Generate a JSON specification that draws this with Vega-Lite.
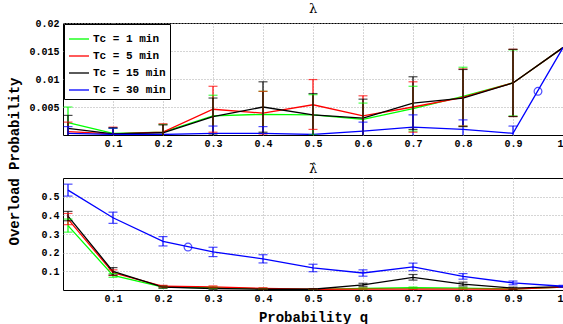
{
  "$schema": "https://vega.github.io/schema/vega-lite/v6.json",
  "padding": {"left": 6, "top": 2, "right": 2, "bottom": 2},
  "bounds": "flush",
  "spacing": 43,
  "background": "white",
  "config": {
    "view": {"stroke": "black", "strokeWidth": 1},
    "font": "Liberation Mono",
    "axis": {
      "labelFont": "Liberation Mono", "labelFontWeight": "bold", "labelFontSize": 10, "labelColor": "black",
      "domain": false, "ticks": false, "grid": true, "gridColor": "#aaaaaa", "gridDash": [1, 2], "gridWidth": 1,
      "titleFont": "Liberation Mono", "titleFontWeight": "bold", "titleFontSize": 14, "titleColor": "black",
      "labelPadding": 4, "labelOverlap": false
    },
    "legend": {
      "strokeColor": "black", "fillColor": "white", "padding": 4,
      "labelFont": "Liberation Mono", "labelFontWeight": "bold", "labelFontSize": 11, "labelColor": "black",
      "symbolType": "stroke", "symbolSize": 400, "symbolStrokeWidth": 1.3, "rowPadding": 1, "labelOffset": 3
    },
    "title": {"font": "DejaVu Serif", "fontSize": 13, "fontWeight": "normal", "color": "black", "offset": 2}
  },
  "resolve": {"scale": {"color": "independent"}, "legend": {"color": "independent"}},
  "datasets": {
    "top": [
      {"s": "Tc = 1 min", "q": 0.01, "v": 0.0022, "lo": -0.0006, "hi": 0.005},
      {"s": "Tc = 1 min", "q": 0.1, "v": 0.0003, "lo": -0.0006, "hi": 0.0012},
      {"s": "Tc = 1 min", "q": 0.2, "v": 0.0005, "lo": -0.0009, "hi": 0.0019},
      {"s": "Tc = 1 min", "q": 0.3, "v": 0.0034, "lo": -0.0003, "hi": 0.0071},
      {"s": "Tc = 1 min", "q": 0.4, "v": 0.0037, "lo": -0.0004, "hi": 0.0078},
      {"s": "Tc = 1 min", "q": 0.5, "v": 0.0036, "lo": 0.0, "hi": 0.0072},
      {"s": "Tc = 1 min", "q": 0.6, "v": 0.0028, "lo": -0.0001, "hi": 0.0057},
      {"s": "Tc = 1 min", "q": 0.7, "v": 0.0047, "lo": 0.0007, "hi": 0.0087},
      {"s": "Tc = 1 min", "q": 0.8, "v": 0.0069, "lo": 0.0016, "hi": 0.0121},
      {"s": "Tc = 1 min", "q": 0.9, "v": 0.0093, "lo": 0.0034, "hi": 0.0152},
      {"s": "Tc = 1 min", "q": 1.0, "v": 0.0156, "lo": null, "hi": null},
      {"s": "Tc = 5 min", "q": 0.01, "v": 0.0006, "lo": -0.0011, "hi": 0.0023},
      {"s": "Tc = 5 min", "q": 0.1, "v": 0.0002, "lo": -0.001, "hi": 0.0014},
      {"s": "Tc = 5 min", "q": 0.2, "v": 0.0005, "lo": -0.001, "hi": 0.002},
      {"s": "Tc = 5 min", "q": 0.3, "v": 0.0046, "lo": 0.0005, "hi": 0.0087},
      {"s": "Tc = 5 min", "q": 0.4, "v": 0.0039, "lo": 0.0, "hi": 0.0078},
      {"s": "Tc = 5 min", "q": 0.5, "v": 0.0054, "lo": 0.001, "hi": 0.0099},
      {"s": "Tc = 5 min", "q": 0.6, "v": 0.0034, "lo": -0.0002, "hi": 0.007},
      {"s": "Tc = 5 min", "q": 0.7, "v": 0.005, "lo": 0.0005, "hi": 0.0095},
      {"s": "Tc = 5 min", "q": 0.8, "v": 0.0067, "lo": 0.0016, "hi": 0.0118},
      {"s": "Tc = 5 min", "q": 0.9, "v": 0.0093, "lo": 0.0033, "hi": 0.0153},
      {"s": "Tc = 5 min", "q": 1.0, "v": 0.0156, "lo": null, "hi": null},
      {"s": "Tc = 15 min", "q": 0.01, "v": 0.0012, "lo": -0.0011, "hi": 0.0035},
      {"s": "Tc = 15 min", "q": 0.1, "v": 0.0002, "lo": -0.0009, "hi": 0.0013},
      {"s": "Tc = 15 min", "q": 0.2, "v": 0.0004, "lo": -0.001, "hi": 0.0018},
      {"s": "Tc = 15 min", "q": 0.3, "v": 0.0033, "lo": 0.0, "hi": 0.0066},
      {"s": "Tc = 15 min", "q": 0.4, "v": 0.005, "lo": 0.0005, "hi": 0.0095},
      {"s": "Tc = 15 min", "q": 0.5, "v": 0.0036, "lo": -0.0002, "hi": 0.0074},
      {"s": "Tc = 15 min", "q": 0.6, "v": 0.003, "lo": -0.0004, "hi": 0.0064},
      {"s": "Tc = 15 min", "q": 0.7, "v": 0.0057, "lo": 0.001, "hi": 0.0104},
      {"s": "Tc = 15 min", "q": 0.8, "v": 0.0066, "lo": 0.0015, "hi": 0.0117},
      {"s": "Tc = 15 min", "q": 0.9, "v": 0.0093, "lo": 0.0033, "hi": 0.0153},
      {"s": "Tc = 15 min", "q": 1.0, "v": 0.0156, "lo": null, "hi": null},
      {"s": "Tc = 30 min", "q": 0.01, "v": 0.0003, "lo": -0.0009, "hi": 0.0015},
      {"s": "Tc = 30 min", "q": 0.1, "v": 0.0001, "lo": -0.001, "hi": 0.0012},
      {"s": "Tc = 30 min", "q": 0.2, "v": 0.0001, "lo": null, "hi": null},
      {"s": "Tc = 30 min", "q": 0.3, "v": 0.0003, "lo": -0.001, "hi": 0.0016},
      {"s": "Tc = 30 min", "q": 0.4, "v": 0.0003, "lo": -0.0009, "hi": 0.0015},
      {"s": "Tc = 30 min", "q": 0.5, "v": 0.0001, "lo": null, "hi": null},
      {"s": "Tc = 30 min", "q": 0.6, "v": 0.0007, "lo": -0.0009, "hi": 0.0023},
      {"s": "Tc = 30 min", "q": 0.7, "v": 0.0014, "lo": -0.0008, "hi": 0.0036},
      {"s": "Tc = 30 min", "q": 0.8, "v": 0.001, "lo": -0.0007, "hi": 0.0027},
      {"s": "Tc = 30 min", "q": 0.9, "v": 0.0003, "lo": -0.001, "hi": 0.0016},
      {"s": "Tc = 30 min", "q": 1.0, "v": 0.0156, "lo": null, "hi": null}
    ],
    "bottom": [
      {"s": "Tc = 1 min", "q": 0.01, "v": 0.345, "lo": 0.31, "hi": 0.38},
      {"s": "Tc = 1 min", "q": 0.1, "v": 0.078, "lo": 0.068, "hi": 0.088},
      {"s": "Tc = 1 min", "q": 0.2, "v": 0.015, "lo": 0.01, "hi": 0.02},
      {"s": "Tc = 1 min", "q": 0.3, "v": 0.012, "lo": 0.008, "hi": 0.016},
      {"s": "Tc = 1 min", "q": 0.4, "v": 0.006, "lo": 0.003, "hi": 0.009},
      {"s": "Tc = 1 min", "q": 0.5, "v": 0.003, "lo": 0.001, "hi": 0.005},
      {"s": "Tc = 1 min", "q": 0.6, "v": 0.008, "lo": 0.004, "hi": 0.012},
      {"s": "Tc = 1 min", "q": 0.7, "v": 0.012, "lo": 0.008, "hi": 0.016},
      {"s": "Tc = 1 min", "q": 0.8, "v": 0.01, "lo": 0.006, "hi": 0.014},
      {"s": "Tc = 1 min", "q": 0.9, "v": 0.005, "lo": 0.002, "hi": 0.008},
      {"s": "Tc = 1 min", "q": 1.0, "v": 0.015, "lo": null, "hi": null},
      {"s": "Tc = 5 min", "q": 0.01, "v": 0.38, "lo": 0.35, "hi": 0.41},
      {"s": "Tc = 5 min", "q": 0.1, "v": 0.093, "lo": 0.078, "hi": 0.108},
      {"s": "Tc = 5 min", "q": 0.2, "v": 0.02, "lo": 0.015, "hi": 0.025},
      {"s": "Tc = 5 min", "q": 0.3, "v": 0.017, "lo": 0.012, "hi": 0.022},
      {"s": "Tc = 5 min", "q": 0.4, "v": 0.008, "lo": 0.004, "hi": 0.012},
      {"s": "Tc = 5 min", "q": 0.5, "v": 0.004, "lo": 0.001, "hi": 0.007},
      {"s": "Tc = 5 min", "q": 0.6, "v": 0.005, "lo": 0.0, "hi": 0.01},
      {"s": "Tc = 5 min", "q": 0.7, "v": 0.005, "lo": 0.001, "hi": 0.009},
      {"s": "Tc = 5 min", "q": 0.8, "v": 0.005, "lo": 0.0, "hi": 0.01},
      {"s": "Tc = 5 min", "q": 0.9, "v": 0.005, "lo": 0.002, "hi": 0.008},
      {"s": "Tc = 5 min", "q": 1.0, "v": 0.015, "lo": null, "hi": null},
      {"s": "Tc = 15 min", "q": 0.01, "v": 0.396, "lo": 0.371, "hi": 0.421},
      {"s": "Tc = 15 min", "q": 0.1, "v": 0.1, "lo": 0.08, "hi": 0.12},
      {"s": "Tc = 15 min", "q": 0.2, "v": 0.015, "lo": 0.01, "hi": 0.02},
      {"s": "Tc = 15 min", "q": 0.3, "v": 0.008, "lo": 0.004, "hi": 0.012},
      {"s": "Tc = 15 min", "q": 0.4, "v": 0.004, "lo": 0.001, "hi": 0.007},
      {"s": "Tc = 15 min", "q": 0.5, "v": 0.004, "lo": 0.001, "hi": 0.007},
      {"s": "Tc = 15 min", "q": 0.6, "v": 0.028, "lo": 0.02, "hi": 0.036},
      {"s": "Tc = 15 min", "q": 0.7, "v": 0.068, "lo": 0.053, "hi": 0.083},
      {"s": "Tc = 15 min", "q": 0.8, "v": 0.032, "lo": 0.022, "hi": 0.042},
      {"s": "Tc = 15 min", "q": 0.9, "v": 0.01, "lo": 0.005, "hi": 0.015},
      {"s": "Tc = 15 min", "q": 1.0, "v": 0.018, "lo": null, "hi": null},
      {"s": "Tc = 30 min", "q": 0.01, "v": 0.535, "lo": 0.503, "hi": 0.567},
      {"s": "Tc = 30 min", "q": 0.1, "v": 0.387, "lo": 0.357, "hi": 0.417},
      {"s": "Tc = 30 min", "q": 0.2, "v": 0.261, "lo": 0.236, "hi": 0.286},
      {"s": "Tc = 30 min", "q": 0.3, "v": 0.204, "lo": 0.179, "hi": 0.229},
      {"s": "Tc = 30 min", "q": 0.4, "v": 0.167, "lo": 0.145, "hi": 0.189},
      {"s": "Tc = 30 min", "q": 0.5, "v": 0.118, "lo": 0.098, "hi": 0.138},
      {"s": "Tc = 30 min", "q": 0.6, "v": 0.091, "lo": 0.074, "hi": 0.108},
      {"s": "Tc = 30 min", "q": 0.7, "v": 0.124, "lo": 0.104, "hi": 0.144},
      {"s": "Tc = 30 min", "q": 0.8, "v": 0.073, "lo": 0.058, "hi": 0.088},
      {"s": "Tc = 30 min", "q": 0.9, "v": 0.038, "lo": 0.028, "hi": 0.048},
      {"s": "Tc = 30 min", "q": 1.0, "v": 0.02, "lo": 0.015, "hi": 0.025}
    ]
  },
  "vconcat": [
    {
      "width": 500,
      "height": 112,
      "title": {"text": "λ"},
      "data": {"name": "top"},
      "encoding": {
        "x": {"field": "q", "type": "quantitative", "scale": {"domain": [0, 1], "nice": false},
              "axis": {"title": null, "values": [0.1, 0.2, 0.3, 0.4, 0.5, 0.6, 0.7, 0.8, 0.9, 1], "format": "~g", "labelPadding": 3}}
      },
      "layer": [
        {
          "mark": {"type": "line", "strokeWidth": 1.3, "clip": true},
          "encoding": {
            "y": {"field": "v", "type": "quantitative", "scale": {"domain": [0, 0.02], "nice": false, "zero": false},
                  "axis": {"title": "Overload Probability", "values": [0.005, 0.01, 0.015, 0.02], "format": "~g",
                           "titleX": -42, "titleY": 138, "titleAlign": "center", "titleAngle": -90}},
            "color": {"field": "s", "type": "nominal",
                      "scale": {"domain": ["Tc = 1 min", "Tc = 5 min", "Tc = 15 min", "Tc = 30 min"], "range": ["#00ff00", "#ff0000", "#000000", "#0000ff"]},
                      "legend": {"title": null, "orient": "top-left", "offset": 1}}
          }
        },
        {
          "transform": [{"filter": "datum.hi != null"}],
          "mark": {"type": "rule", "strokeWidth": 1.2, "clip": true},
          "encoding": {
            "y": {"field": "lo", "type": "quantitative",
                  "axis": {"title": "Overload Probability", "values": [0.005, 0.01, 0.015, 0.02], "format": "~g",
                           "titleX": -42, "titleY": 138, "titleAlign": "center", "titleAngle": -90}},
            "y2": {"field": "hi"},
            "color": {"field": "s", "type": "nominal", "legend": null}
          }
        },
        {
          "transform": [{"filter": "datum.hi != null"}],
          "mark": {"type": "tick", "orient": "horizontal", "size": 9, "thickness": 1.2, "clip": true},
          "encoding": {
            "y": {"field": "hi", "type": "quantitative",
                  "axis": {"title": "Overload Probability", "values": [0.005, 0.01, 0.015, 0.02], "format": "~g",
                           "titleX": -42, "titleY": 138, "titleAlign": "center", "titleAngle": -90}},
            "color": {"field": "s", "type": "nominal", "legend": null}
          }
        },
        {
          "transform": [{"filter": "datum.hi != null"}],
          "mark": {"type": "tick", "orient": "horizontal", "size": 9, "thickness": 1.2, "clip": true},
          "encoding": {
            "y": {"field": "lo", "type": "quantitative",
                  "axis": {"title": "Overload Probability", "values": [0.005, 0.01, 0.015, 0.02], "format": "~g",
                           "titleX": -42, "titleY": 138, "titleAlign": "center", "titleAngle": -90}},
            "color": {"field": "s", "type": "nominal", "legend": null}
          }
        },
        {
          "data": {"values": [{"q": 0.95, "v": 0.0078}]},
          "mark": {"type": "point", "filled": false, "color": "#0000ff", "size": 60, "strokeWidth": 1.2},
          "encoding": {"y": {"field": "v", "type": "quantitative",
                  "axis": {"title": "Overload Probability", "values": [0.005, 0.01, 0.015, 0.02], "format": "~g",
                           "titleX": -42, "titleY": 138, "titleAlign": "center", "titleAngle": -90}}}
        }
      ]
    },
    {
      "width": 500,
      "height": 112,
      "title": {"text": "λ̂"},
      "data": {"name": "bottom"},
      "encoding": {
        "x": {"field": "q", "type": "quantitative", "scale": {"domain": [0, 1], "nice": false},
              "axis": {"title": "Probability q", "values": [0.1, 0.2, 0.3, 0.4, 0.5, 0.6, 0.7, 0.8, 0.9, 1], "format": "~g", "labelPadding": 3, "titlePadding": 7}}
      },
      "layer": [
        {
          "mark": {"type": "line", "strokeWidth": 1.3, "clip": true},
          "encoding": {
            "y": {"field": "v", "type": "quantitative", "scale": {"domain": [0, 0.6], "nice": false, "zero": false},
                  "axis": {"title": null, "values": [0.1, 0.2, 0.3, 0.4, 0.5], "format": "~g"}},
            "color": {"field": "s", "type": "nominal", "legend": null,
                      "scale": {"domain": ["Tc = 1 min", "Tc = 5 min", "Tc = 15 min", "Tc = 30 min"], "range": ["#00ff00", "#ff0000", "#000000", "#0000ff"]}}
          }
        },
        {
          "transform": [{"filter": "datum.hi != null"}],
          "mark": {"type": "rule", "strokeWidth": 1.2, "clip": true},
          "encoding": {
            "y": {"field": "lo", "type": "quantitative", "axis": {"title": null, "values": [0.1, 0.2, 0.3, 0.4, 0.5], "format": "~g"}},
            "y2": {"field": "hi"},
            "color": {"field": "s", "type": "nominal", "legend": null}
          }
        },
        {
          "transform": [{"filter": "datum.hi != null"}],
          "mark": {"type": "tick", "orient": "horizontal", "size": 9, "thickness": 1.2, "clip": true},
          "encoding": {
            "y": {"field": "hi", "type": "quantitative", "axis": {"title": null, "values": [0.1, 0.2, 0.3, 0.4, 0.5], "format": "~g"}},
            "color": {"field": "s", "type": "nominal", "legend": null}
          }
        },
        {
          "transform": [{"filter": "datum.hi != null"}],
          "mark": {"type": "tick", "orient": "horizontal", "size": 9, "thickness": 1.2, "clip": true},
          "encoding": {
            "y": {"field": "lo", "type": "quantitative", "axis": {"title": null, "values": [0.1, 0.2, 0.3, 0.4, 0.5], "format": "~g"}},
            "color": {"field": "s", "type": "nominal", "legend": null}
          }
        },
        {
          "data": {"values": [{"q": 0.25, "v": 0.23}]},
          "mark": {"type": "point", "filled": false, "color": "#0000ff", "size": 60, "strokeWidth": 1.2},
          "encoding": {"y": {"field": "v", "type": "quantitative", "axis": {"title": null, "values": [0.1, 0.2, 0.3, 0.4, 0.5], "format": "~g"}}}
        }
      ]
    }
  ]
}
